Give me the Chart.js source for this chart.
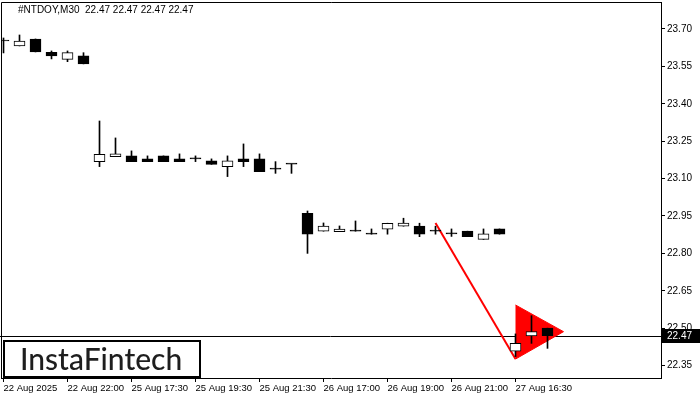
<!DOCTYPE html>
<html>
<head>
<meta charset="utf-8">
<script src="https://cdn.jsdelivr.net/npm/chart.js@4"></script>
<style>
	body{margin:0;background:#fff;}
	canvas{display:block;}
</style>
</head>
<body>
<canvas id="velas" width="700" height="400"></canvas>
<script>
// datos (M30)
const titulo = '#NTDOY,M30  22.47 22.47 22.47 22.47';
const opens  = [23.652,23.632,23.660,23.606,23.578,23.592, 23.168,23.188,23.191,23.179,23.191,23.179,23.179,23.171,23.148,23.179,23.179,23.138,23.158, 22.961,22.889,22.887,22.889,22.877,22.897,22.909,22.909,22.889,22.878,22.889,22.856,22.898, 22.408,22.469,22.500];
const highs  = [23.664,23.676,23.660,23.612,23.612,23.605, 23.331,23.263,23.211,23.191,23.191,23.199,23.191,23.179,23.191,23.239,23.199,23.168,23.158, 22.970,22.922,22.910,22.930,22.898,22.921,22.941,22.921,22.909,22.898,22.889,22.898,22.898, 22.477,22.550,22.500];
const lows   = [23.604,23.632,23.608,23.580,23.569,23.560, 23.148,23.188,23.168,23.168,23.168,23.168,23.168,23.157,23.108,23.148,23.128,23.121,23.121, 22.800,22.889,22.887,22.889,22.877,22.877,22.909,22.867,22.877,22.868,22.867,22.856,22.877, 22.386,22.439,22.419];
const closes = [23.652,23.652,23.608,23.592,23.605,23.560, 23.197,23.199,23.168,23.168,23.168,23.168,23.179,23.157,23.171,23.168,23.128,23.138,23.158, 22.877,22.909,22.897,22.889,22.877,22.921,22.922,22.877,22.889,22.878,22.867,22.878,22.877, 22.439,22.486,22.470];

const tickIdx = [0,4,8,12,16,20,24,28,32];
const tickLabels = ['22 Aug 2025','22 Aug 22:00','25 Aug 17:30','25 Aug 19:30','25 Aug 21:30','26 Aug 17:00','26 Aug 19:00','26 Aug 21:00','27 Aug 16:30'];
const priceTicks = [22.35,22.50,22.65,22.80,22.95,23.10,23.25,23.40,23.55,23.70];

// banderin bajista (asta + triangulo)
const astaX = [27, 32];
const astaY = [22.922, 22.376];
const triX = [32, 35, 32];
const triY = [22.593, 22.486, 22.376];

const fuente = '"Liberation Sans", Arial, sans-serif';

let cuerpos = opens.map((o, i) => ({x: i, y: [o, closes[i]]}));
let mechas = highs.map((h, i) => ({x: i, y: [lows[i], h]}));
let colores = opens.map((o, i) => closes[i] > o ? '#ffffff' : '#000000');

let marco = {
	id: 'marco',
	beforeDatasetsDraw(chart){
		let {ctx, chartArea: a, scales} = chart;
		let y = Math.round(scales.y.getPixelForValue(closes[closes.length - 1])) + 0.5;
		ctx.save();
		ctx.strokeStyle = '#000';
		ctx.lineWidth = 1;
		ctx.beginPath();
		ctx.moveTo(0, y);
		ctx.lineTo(a.right, y);
		ctx.stroke();
		ctx.restore();
	},
	afterDraw(chart){
		let {ctx, chartArea: a, scales} = chart;
		ctx.save();
		ctx.strokeStyle = '#000';
		ctx.lineWidth = 1;
		ctx.beginPath();
		ctx.moveTo(a.left + 0.5, a.bottom);
		ctx.lineTo(a.left + 0.5, a.top + 0.5);
		ctx.lineTo(a.right, a.top + 0.5);
		ctx.stroke();

		// titulo
		ctx.fillStyle = '#000';
		ctx.font = '10px ' + fuente;
		ctx.textBaseline = 'middle';
		ctx.textAlign = 'left';
		ctx.fillText(titulo, 18, 10);

		// etiqueta del precio actual
		let ultimo = closes[closes.length - 1];
		let y = Math.round(scales.y.getPixelForValue(ultimo));
		ctx.fillStyle = '#000';
		ctx.fillRect(a.right + 1, y - 7, 38, 14);
		ctx.fillStyle = '#fff';
		ctx.font = '10px ' + fuente;
		ctx.fillText(ultimo.toFixed(2), a.right + 6, y);

		// logo
		ctx.fillStyle = '#fff';
		ctx.fillRect(3, 340, 198, 38);
		ctx.lineWidth = 2;
		ctx.strokeStyle = '#000';
		ctx.strokeRect(4, 341, 196, 36);
		ctx.fillStyle = '#1e1e1e';
		ctx.font = '500 30px Lato, sans-serif';
		ctx.textBaseline = 'alphabetic';
		ctx.fillText('InstaFintech', 20, 370);
		ctx.restore();
	}
};

let ctx = document.getElementById('velas').getContext('2d');

new Chart(ctx, {
	type: 'bar',
	data: {
		datasets: [{
			label: 'cuerpo',
			data: cuerpos,
			backgroundColor: colores,
			borderColor: '#000',
			borderWidth: 1,
			borderSkipped: false,
			barThickness: 11,
			maxBarThickness: 11,
			minBarLength: 1,
			grouped: false,
			order: 0
		},
		{
			label: 'mecha',
			data: mechas,
			backgroundColor: '#000',
			borderWidth: 0,
			barThickness: 1,
			maxBarThickness: 1,
			grouped: false,
			order: 1
		},
		{
			type: 'line',
			label: 'asta',
			data: astaX.map((x, i) => ({x: x, y: astaY[i]})),
			borderColor: '#ff0000',
			borderWidth: 2,
			pointRadius: 0,
			fill: false,
			order: 5
		},
		{
			type: 'line',
			label: 'banderin',
			data: triX.map((x, i) => ({x: x, y: triY[i]})),
			borderColor: '#ff0000',
			backgroundColor: '#ff0000',
			borderWidth: 1,
			pointRadius: 0,
			fill: 'shape',
			order: 5
		}]
	},
	options: {
		responsive: false,
		animation: false,
		layout: {padding: {left: 1, top: 2, right: 0, bottom: 0}},
		plugins: {
			legend: {display: false},
			tooltip: {enabled: false}
		},
		scales: {
			x: {
				type: 'linear',
				offset: false,
				min: -0.15625,
				max: 41.09375,
				grid: {offset: false, drawOnChartArea: false, drawTicks: true, tickLength: 4, tickColor: '#000'},
				border: {display: true, color: '#000', width: 1},
				afterBuildTicks: axis => { axis.ticks = tickIdx.map(v => ({value: v})); },
				afterFit: axis => { axis.height = 22; axis.paddingLeft = 0; axis.paddingRight = 0; },
				ticks: {
					align: 'start',
					autoSkip: false,
					maxRotation: 0,
					padding: 1,
					color: '#000',
					font: {family: fuente, size: 9.5},
					callback: v => tickLabels[tickIdx.indexOf(v)] || ''
				}
			},
			y: {
				type: 'linear',
				position: 'right',
				min: 22.3001,
				max: 23.8083,
				grid: {drawOnChartArea: false, drawTicks: true, tickLength: 4, tickColor: '#000'},
				border: {display: true, color: '#000', width: 1},
				afterBuildTicks: axis => { axis.ticks = priceTicks.map(v => ({value: v})); },
				afterFit: axis => { axis.width = 39; axis.paddingTop = 0; axis.paddingBottom = 0; },
				ticks: {
					padding: 2,
					color: '#000',
					font: {family: fuente, size: 10},
					callback: v => v.toFixed(2)
				}
			}
		}
	},
	plugins: [marco]
});
</script>
</body>
</html>
